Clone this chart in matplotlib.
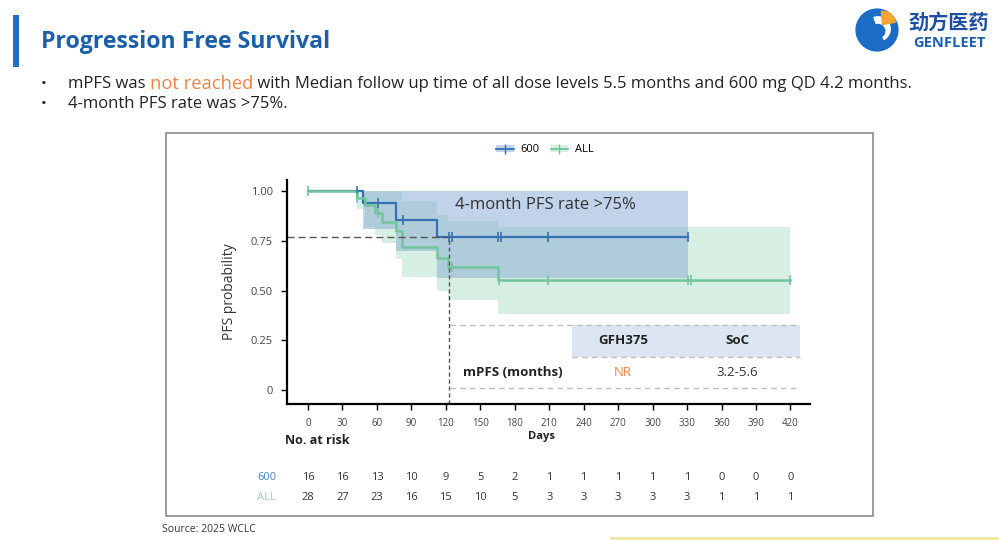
import numpy as np
import matplotlib.pyplot as plt
import matplotlib.transforms as mtransforms
from matplotlib.patches import Rectangle, Patch, Circle, Wedge
from matplotlib.lines import Line2D

plt.rcParams['font.family'] = ['Open Sans', 'DejaVu Sans']

# ---- data ----
days_ticks = list(range(0, 421, 30))
risk_600 = [16, 16, 13, 10, 9, 5, 2, 1, 1, 1, 1, 1, 0, 0, 0]
risk_all = [28, 27, 23, 16, 15, 10, 5, 3, 3, 3, 3, 3, 1, 1, 1]

# 600 mg QD curve (step times in days, survival, CI)
t_600 = [0, 48, 77, 112, 331]
s_600 = [1.0, 0.9375, 0.855, 0.77, 0.77]
lo_600 = [1.0, 0.81, 0.70, 0.565, 0.565]
hi_600 = [1.0, 1.0, 1.0, 1.0, 1.0]
cens_600 = [43, 61, 83, 123, 125, 165, 168, 209, 331]

# all dose levels
t_all = [0, 43, 50, 58, 64, 77, 82, 112, 122, 165, 420]
s_all = [1.0, 0.965, 0.93, 0.89, 0.845, 0.80, 0.72, 0.665, 0.62, 0.555, 0.555]
lo_all = [1.0, 0.91, 0.82, 0.78, 0.74, 0.66, 0.57, 0.50, 0.45, 0.38, 0.38]
hi_all = [1.0, 1.0, 1.0, 1.0, 1.0, 1.0, 0.95, 0.88, 0.85, 0.82, 0.82]
cens_all = [0, 43, 61, 125, 166, 209, 331, 333, 420]

pfs_4m = 0.77
day_4m = 123

blue = '#3571b3'
green = '#72c49d'
blue_band = '#8fb0d6'
green_band = '#8fd0b0'


def surv_at(times, surv, x):
    idx = np.searchsorted(times, x, side='right') - 1
    return np.array(surv)[idx]


fig = plt.figure(figsize=(9.99, 5.40), dpi=100)


def fx(px):
    return px / 999


def fy(py):
    return 1 - py / 540


# ---- slide header ----
fig.patches.append(Rectangle((fx(13), fy(67)), fx(6), 52 / 540, transform=fig.transFigure,
                             facecolor='#1f6fc5', edgecolor='none'))
fig.text(fx(41), fy(42), 'Progression Free Survival', fontsize=16.7, fontweight='bold',
         color='#1d5fa8', va='center', ha='left')

renderer = fig.canvas.get_renderer()
bullet_lines = [
    [('mPFS was ', '#222222', 12.0), ('not reached', '#e8834a', 13.2),
     (' with Median follow up time of all dose levels 5.5 months and 600 mg QD 4.2 months.', '#222222', 12.0)],
    [('4-month PFS rate was >75%.', '#222222', 12.0)],
]
for py, parts in zip([84, 104], bullet_lines):
    fig.text(fx(44), fy(py), '•', fontsize=11, color='#222222', va='center', ha='center')
    x = fx(68)
    for s, c, fs in parts:
        t = fig.text(x, fy(py), s, fontsize=fs, color=c, va='center', ha='left')
        bb = t.get_window_extent(renderer)
        x += bb.width / fig.bbox.width

# ---- logo ----
lax = fig.add_axes([fx(855), fy(52), fx(44), 44 / 540])
lax.set_xlim(-1, 1)
lax.set_ylim(-1, 1)
lax.set_aspect('equal')
lax.axis('off')
lax.add_patch(Circle((0, 0), 0.95, color='#1c6cc4'))
lax.add_patch(Wedge((0.05, 0.05), 0.55, 300, 110, color='white'))
lax.add_patch(Wedge((0.25, 0.25), 0.6, 10, 95, color='#f2a531'))
lax.add_patch(Circle((0.05, -0.05), 0.3, color='#1c6cc4'))
fig.text(fx(949), fy(23), '劲方医药', fontsize=14.5, fontweight='bold', color='#1b4ea0',
         family=['Noto Sans CJK SC', 'DejaVu Sans'], ha='center', va='center')
fig.text(fx(949), fy(43), 'GENFLEET', fontsize=10.5, fontweight='bold',
         color='#1b5fb0', ha='center', va='center')

# ---- chart frame ----
fig.patches.append(Rectangle((fx(166), fy(516)), fx(873 - 166), (516 - 133) / 540,
                             transform=fig.transFigure, fill=False, edgecolor='#8a8a8a', lw=1.2))

# ---- KM plot ----
ax = fig.add_axes([fx(287), fy(404), fx(810 - 287), (404 - 180) / 540])
ax.set_xlim(-18.3, 437)
ax.set_ylim(-0.07, 1.055)

ax.fill_between(t_all, lo_all, hi_all, step='post', color=green_band, alpha=0.35, lw=0)
ax.fill_between(t_600, lo_600, hi_600, step='post', color=blue_band, alpha=0.55, lw=0)

ax.step(t_600, s_600, where='post', color=blue, lw=1.6)
ax.step(t_all, s_all, where='post', color=green, lw=1.8)
ax.plot(cens_600, surv_at(t_600, s_600, cens_600), ls='none', marker='|', ms=7, mew=1.2, color=blue)
ax.plot(cens_all, surv_at(t_all, s_all, cens_all), ls='none', marker='|', ms=7, mew=1.2, color=green)

# 4-month guide lines
ax.hlines(pfs_4m, -18.3, day_4m, colors='#555555', linestyles=(0, (5, 3)), lw=1)
ax.vlines(day_4m, -0.07, pfs_4m, colors='#555555', linestyles=(0, (3, 2)), lw=1)

ax.text(128, 0.93, '4-month PFS rate >75%', fontsize=12, color='#333333', va='center', ha='left')

# small mPFS table
ax.add_patch(Rectangle((230, 0.166), 428 - 230, 0.327 - 0.166, facecolor='#dce6f2', edgecolor='none'))
ax.hlines([0.327, 0.01], 124, 428, colors='#bdbdbd', linestyles=(0, (4, 3)), lw=1)
ax.hlines(0.166, 230, 428, colors='#bdbdbd', linestyles=(0, (4, 3)), lw=1)
ax.text(274, 0.25, 'GFH375', fontsize=9.5, fontweight='bold', color='#222222', ha='center', va='center')
ax.text(374, 0.25, 'SoC', fontsize=9.5, fontweight='bold', color='#222222', ha='center', va='center')
ax.text(178, 0.09, 'mPFS (months)', fontsize=9.5, fontweight='bold', color='#222222', ha='center', va='center')
ax.text(274, 0.09, 'NR', fontsize=9.5, color='#e8834a', ha='center', va='center')
ax.text(374, 0.09, '3.2-5.6', fontsize=9.5, color='#333333', ha='center', va='center')

ax.set_xticks(days_ticks)
ax.set_xticklabels([str(d) for d in days_ticks], fontsize=7, color='#444444')
ax.set_yticks([0, 0.25, 0.5, 0.75, 1.0])
ax.set_yticklabels(['0', '0.25', '0.50', '0.75', '1.00'], fontsize=8, color='#444444')
ax.tick_params(direction='out', length=4, width=1, pad=6)
for side in ['top', 'right']:
    ax.spines[side].set_visible(False)
for side in ['left', 'bottom']:
    ax.spines[side].set_linewidth(1.6)
ax.set_ylabel('PFS probability', fontsize=10, color='#333333', labelpad=10)

# legend
h600 = (Patch(facecolor=blue_band, alpha=0.55), Line2D([], [], color=blue, marker='|', ms=7, lw=1.3))
hall = (Patch(facecolor=green_band, alpha=0.35), Line2D([], [], color=green, marker='|', ms=7, lw=1.3))
ax.legend([h600, hall], ['600', 'ALL'], loc='center', bbox_to_anchor=(0.493, 1.134), ncol=2,
          frameon=False, fontsize=8, handlelength=1.6, columnspacing=1.0, handletextpad=0.6)

# x label and numbers at risk
fig.text(fx(541), fy(437), 'Days', fontsize=8, fontweight='bold', color='#222222', ha='center', va='center')
fig.text(fx(285), fy(440), 'No. at risk', fontsize=9, fontweight='bold', color='#222222', ha='left', va='center')
trans = mtransforms.blended_transform_factory(ax.transData, fig.transFigure)
for d, n6, na in zip(days_ticks, risk_600, risk_all):
    ax.text(d, fy(478), str(n6), transform=trans, fontsize=8, color='#333333', ha='center', va='center', clip_on=False)
    ax.text(d, fy(498), str(na), transform=trans, fontsize=8, color='#333333', ha='center', va='center', clip_on=False)
fig.text(fx(276), fy(478), '600', fontsize=8, color='#4a7fc0', ha='right', va='center')
fig.text(fx(276), fy(498), 'ALL', fontsize=8, color='#9fd3b8', ha='right', va='center')

# source and footer line
fig.text(fx(162), fy(530), 'Source: 2025 WCLC', fontsize=7.5, color='#333333', ha='left', va='center')
fig.lines.append(Line2D([fx(611), 1.0], [fy(538), fy(538)], transform=fig.transFigure,
                        color='#f1e6a0', lw=2))

fig.savefig('out.png', dpi=100)
